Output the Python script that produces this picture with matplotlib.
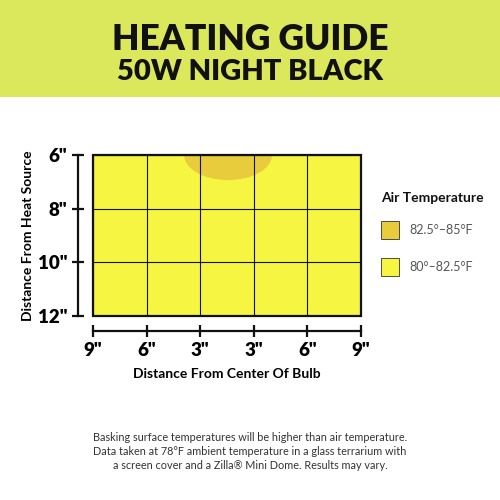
import matplotlib
matplotlib.use("Agg")
import matplotlib.pyplot as plt
from matplotlib.patches import Rectangle, Ellipse

plt.rcParams['font.family'] = ['Lato', 'DejaVu Sans']

# data
x_labels = ['9"', '6"', '3"', '3"', '6"', '9"']
y_values = [6, 8, 10, 12]
y_labels = ['6"', '8"', '10"', '12"']
hot_center = (2.52, 6.0)   # column position, inches from source
hot_width = 1.64
hot_height = 1.87
legend_labels = ['82.5°–85°F', '80°–82.5°F']
legend_colors = ['#e8cc3c', '#f5f542']

fig = plt.figure(figsize=(5, 5), dpi=100)
fig.patch.set_facecolor('white')

# header band
fig.patches.append(Rectangle((0, 0.806), 1, 0.194, transform=fig.transFigure,
                             facecolor='#dbe85b', edgecolor='none', zorder=0))
fig.text(0.5, 0.922, 'HEATING GUIDE', ha='center', va='center',
         fontsize=25.5, fontweight='heavy', color='#111111')
fig.text(0.5, 0.857, '50W NIGHT BLACK', ha='center', va='center',
         fontsize=21, fontweight='heavy', color='#111111')

ax = fig.add_axes([0.186, 0.368, 0.536, 0.322])
ax.set_facecolor(legend_colors[1])
ax.set_xlim(0, len(x_labels) - 1)
ax.set_ylim(y_values[-1], y_values[0])

ax.add_patch(Ellipse(hot_center, hot_width, hot_height,
                     facecolor=legend_colors[0], edgecolor='none', zorder=1))

ax.set_xticks(range(len(x_labels)))
ax.set_xticklabels(x_labels)
ax.set_yticks(y_values)
ax.set_yticklabels(y_labels)
ax.grid(True, color='#111111', linewidth=0.8, zorder=2)
ax.set_axisbelow(False)

ax.add_patch(Rectangle((0, 0), 1, 1, transform=ax.transAxes, fill=False,
                       edgecolor='#111111', linewidth=1.6, clip_on=False, zorder=5))

for s in ['top', 'right']:
    ax.spines[s].set_visible(False)
ax.spines['left'].set_position(('outward', 11))
ax.spines['bottom'].set_position(('outward', 11))
for s in ['left', 'bottom']:
    ax.spines[s].set_linewidth(1.6)
    ax.spines[s].set_color('#111111')

ax.tick_params(axis='both', direction='inout', length=9, width=1.6,
               color='#111111', labelsize=13.5, pad=3)
for lab in ax.get_xticklabels() + ax.get_yticklabels():
    lab.set_fontweight('heavy')

ax.set_xlabel('Distance From Center Of Bulb', fontsize=10, fontweight='bold',
              labelpad=7)
ax.set_ylabel('Distance From Heat Source', fontsize=10, fontweight='bold',
              labelpad=3)

# legend
fig.text(0.762, 0.604, 'Air Temperature', ha='left', va='center',
         fontsize=10, fontweight='bold', color='#111111')
for i, (lab, col) in enumerate(zip(legend_labels, legend_colors)):
    yc = 0.540 - i * 0.074
    fig.patches.append(Rectangle((0.762, yc - 0.018), 0.036, 0.036,
                                 transform=fig.transFigure, facecolor=col,
                                 edgecolor='#333333', linewidth=0.6))
    fig.text(0.818, yc, lab, ha='left', va='center', fontsize=9,
             fontweight='normal', color='#555555')

footer = ('Basking surface temperatures will be higher than air temperature.\n'
          'Data taken at 78°F ambient temperature in a glass terrarium with\n'
          'a screen cover and a Zilla® Mini Dome. Results may vary.')
fig.text(0.5, 0.097, footer, ha='center', va='center', fontsize=7.8,
         color='#333333', linespacing=1.35)

fig.savefig('out.png', dpi=100)
